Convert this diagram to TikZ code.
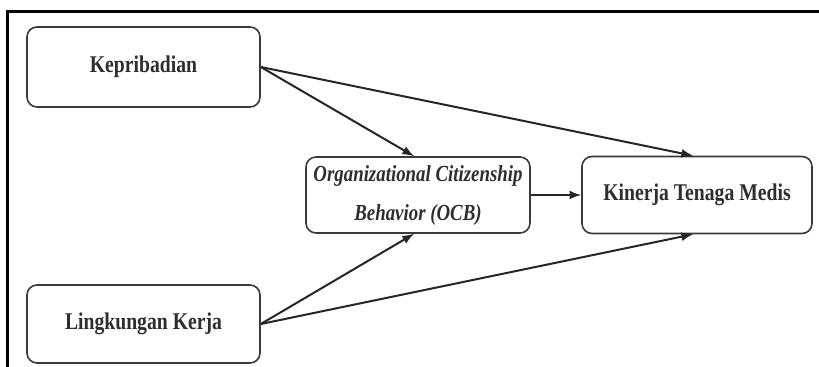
\documentclass[tikz,border=0pt]{standalone}
\usepackage{fontspec}
\setmainfont{Liberation Serif}[FakeStretch=0.82]
\usetikzlibrary{positioning}
\definecolor{boxgray}{HTML}{3A3A3A}
\definecolor{txtgray}{HTML}{2E2E2E}
\begin{document}
\begin{tikzpicture}[
		x=0.5pt,y=-0.5pt,
		every node/.style={
				font=\fontsize{12}{14}\selectfont\bfseries,
				text=txtgray,
			},
		varbox/.style={
				draw=boxgray,
				line width=0.8pt,
				rounded corners=5pt,
				align=center,
				inner sep=0pt,
			},
		path/.style={
				-latex,
				line width=1pt,
				draw=black!85,
			},]
	\useasboundingbox (0,0) rectangle (819,367);
	% frame
	\draw [line width=1.5pt] (7,367) -- (7,12) -- (819,12);
	\node[varbox, minimum width=116.5pt, minimum height=40pt] (kepribadian) at (143.5,67) {Kepribadian};
	\node[varbox, minimum width=116.5pt, minimum height=39pt] (lingkungan) at (143.5,324) {Lingkungan Kerja};
	\node[varbox, minimum width=112pt, minimum height=38pt, font=\fontsize{11.5}{14}\selectfont\bfseries\itshape] (ocb) at (418,195) {Organizational Citizenship\\[5.5pt]Behavior (OCB)};
	\node[varbox, minimum width=115pt, minimum height=38.5pt] (kinerja) at (697,195) {Kinerja Tenaga Medis};
	\draw [path] (kepribadian.east) -- ([xshift=-2pt]ocb.north);
	\draw [path] (kepribadian.east) -- ([xshift=-2pt]kinerja.north);
	\draw [path] (lingkungan.east) -- ([xshift=-2pt]ocb.south);
	\draw [path] (lingkungan.east) -- ([xshift=-2pt]kinerja.south);
	\draw [path] (ocb.east) -- (kinerja.west);
\end{tikzpicture}
\end{document}
